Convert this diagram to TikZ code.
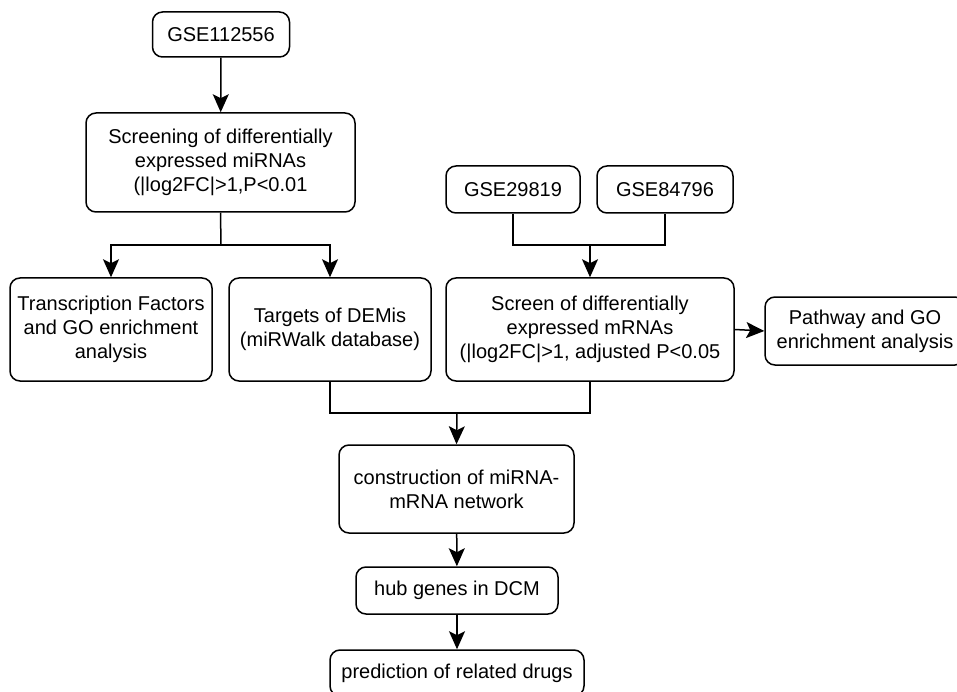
\documentclass[tikz,border=0pt]{standalone}
\usepackage{fontspec}
\setmainfont{Liberation Sans}
\usetikzlibrary{arrows.meta}
\begin{document}
\begin{tikzpicture}[x=1pt,y=-1pt,
  box/.style={draw, line width=1.5pt, rounded corners=10pt, align=center,
    inner sep=0pt, font=\fontsize{20}{24}\selectfont},
  conn/.style={line width=1.5pt},
  arr/.style={conn, -{Stealth[length=18pt,width=16pt,inset=4pt]}}]
\clip (0,0) rectangle (957,692);
\fill[white] (0,0) rectangle (957,692);
\node[box, minimum width=137pt, minimum height=45pt] (g1) at (221,34.5) {GSE112556};
\node[box, minimum width=269pt, minimum height=99pt] (scr) at (220.5,162.5) {Screening of differentially\\expressed miRNAs\\(|log2FC|>1,P<0.01};
\node[box, minimum width=202pt, minimum height=103pt] (tf) at (111,329.5) {Transcription Factors\\and GO enrichment\\analysis};
\node[box, minimum width=202pt, minimum height=103pt] (tg) at (330,329.5) {Targets of DEMis\\(miRWalk database)};
\node[box, minimum width=134pt, minimum height=47pt] (g2) at (513,189.5) {GSE29819};
\node[box, minimum width=136pt, minimum height=47pt] (g3) at (665,189.5) {GSE84796};
\node[box, minimum width=288pt, minimum height=103pt] (sm) at (590,329.5) {Screen of differentially\\expressed mRNAs\\(|log2FC|>1, adjusted P<0.05};
\node[box, minimum width=200pt, minimum height=68pt] (pw) at (865,331) {Pathway and GO\\enrichment analysis};
\node[box, minimum width=235pt, minimum height=88pt] (cn) at (456.5,489) {construction of miRNA-\\mRNA network};
\node[box, minimum width=202pt, minimum height=47pt] (hub) at (457,590.5) {hub genes in DCM};
\node[box, minimum width=254pt, minimum height=46pt] (pr) at (457,673) {prediction of related drugs};
\coordinate (j1) at (221,245);
\coordinate (j2) at (590,245);
\coordinate (j3) at (457,413);
\draw[arr] (g1) -- (scr);
\draw[conn] (scr.south) -- (j1);
\draw[arr] (j1) -| (tf.north);
\draw[arr] (j1) -| (tg.north);
\draw[conn] (g2.south) |- (j2) -| (g3.south);
\draw[arr] (j2) -- (sm.north);
\draw[arr] (sm.east) -- (pw.west);
\draw[conn] (tg.south) |- (j3) -| (sm.south);
\draw[arr] (j3) -- (cn.north);
\draw[arr] (cn) -- (hub);
\draw[arr] (hub) -- (pr);
\end{tikzpicture}
\end{document}
